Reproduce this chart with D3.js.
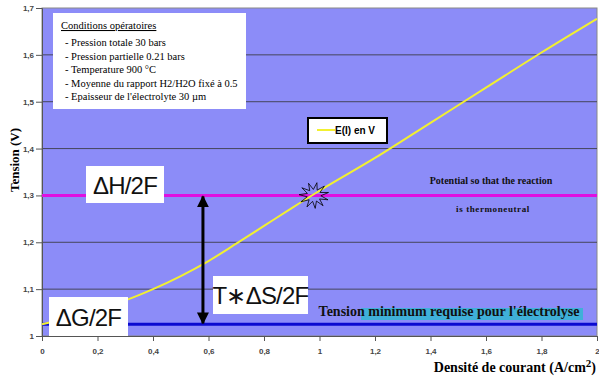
<!DOCTYPE html>
<html>
<head>
<meta charset="utf-8">
<script src="https://cdn.jsdelivr.net/npm/d3@7"></script>
<style>
  body { margin: 0; background: #fff; }
  svg { display: block; }
</style>
</head>
<body>
<div id="chart"></div>
<script>
// data
var density = [0, 0.1, 0.2, 0.3, 0.4, 0.5, 0.6, 0.7, 0.8, 0.9, 1.0, 1.2, 1.4, 1.6, 1.8, 2.0];
var tension = [1.025, 1.04, 1.058, 1.076, 1.10, 1.128, 1.16, 1.197, 1.235, 1.273, 1.31, 1.38, 1.455, 1.53, 1.605, 1.677];
var xTicks = [0, 0.2, 0.4, 0.6, 0.8, 1, 1.2, 1.4, 1.6, 1.8, 2];
var yTicks = [1, 1.1, 1.2, 1.3, 1.4, 1.5, 1.6, 1.7];
var dH = 1.3;      // thermoneutral
var dG = 1.025;    // minimum
var arrowX = 0.58;
var conditions = [
  '- Pression totale 30 bars',
  '- Pression partielle 0.21 bars',
  '- Temperature 900 °C',
  '- Moyenne du rapport H2/H2O fixé à 0.5',
  '- Epaisseur de l\'électrolyte 30 µm'
];

const width = 599;
const height = 377;
var serif = '"Liberation Serif", "Times New Roman", serif';
var sans = '"Liberation Sans", Arial, sans-serif';

var svg = d3.select('#chart').append('svg')
  .attr('width', width)
  .attr('height', height);

var x = d3.scaleLinear().domain([0, 2]).range([42, 597]);
var y = d3.scaleLinear().domain([1, 1.7]).range([336, 8]);

var fmt = function(d) { return String(d).replace('.', ','); };

// plot area
svg.append('rect')
  .attr('x', x(0)).attr('y', y(1.7))
  .attr('width', x(2) - x(0)).attr('height', y(1) - y(1.7))
  .style('fill', '#8c8cf8')
  .style('stroke', '#888')
  .style('stroke-width', 1);

// gridlines
svg.selectAll('.grid').data(yTicks.slice(1, -1)).enter().append('line')
  .attr('class', 'grid')
  .attr('x1', x(0)).attr('x2', x(2))
  .attr('y1', function(d) { return y(d); }).attr('y2', function(d) { return y(d); })
  .style('stroke', '#333').style('stroke-width', 0.8);

// axes
var yAxis = svg.append('g')
  .attr('transform', 'translate(' + x(0) + ',0)')
  .call(d3.axisLeft(y).tickValues(yTicks).tickFormat(fmt).tickSize(6));
var xAxis = svg.append('g')
  .attr('transform', 'translate(0,' + y(1) + ')')
  .call(d3.axisBottom(x).tickValues(xTicks).tickFormat(fmt).tickSize(5));
[yAxis, xAxis].forEach(function(a) {
  a.select('.domain').style('stroke', '#555');
  a.selectAll('.tick line').style('stroke', '#555');
  a.selectAll('.tick text')
    .style('font-family', sans)
    .style('font-size', '8px')
    .style('font-weight', 'bold')
    .style('fill', '#444');
});
xAxis.selectAll('.tick text').attr('dy', '1.3em');
yAxis.selectAll('.tick text').attr('x', -8);

// reference lines
svg.append('line')
  .attr('x1', x(0)).attr('x2', x(2))
  .attr('y1', y(dH)).attr('y2', y(dH))
  .style('stroke', '#e010e0').style('stroke-width', 3);
svg.append('line')
  .attr('x1', x(0)).attr('x2', x(2))
  .attr('y1', y(dG)).attr('y2', y(dG))
  .style('stroke', '#0a0ad0').style('stroke-width', 3);

// curve
var line = d3.line()
  .x(function(d, i) { return x(density[i]); })
  .y(function(d) { return y(d); })
  .curve(d3.curveMonotoneX);
svg.append('path')
  .datum(tension)
  .attr('d', line)
  .style('fill', 'none')
  .style('stroke', '#f2f030')
  .style('stroke-width', 2);

// star burst at intersection
var cx = x(0.98), cy = y(dH);
var pts = [];
for (var i = 0; i < 22; i++) {
  var r = (i % 2 === 0) ? 13 : 6;
  var a = i * Math.PI / 11 - Math.PI / 2 + 0.2;
  pts.push([cx + r * Math.cos(a) * 1.15, cy + r * Math.sin(a)]);
}
svg.append('polygon')
  .attr('points', pts.map(function(p) { return p.join(','); }).join(' '))
  .style('fill', 'none')
  .style('stroke', '#000')
  .style('stroke-width', 0.8);

// double arrow
svg.append('defs').append('marker')
  .attr('id', 'head')
  .attr('viewBox', '0 0 10 10')
  .attr('refX', 9).attr('refY', 5)
  .attr('markerWidth', 4).attr('markerHeight', 4.5)
  .attr('orient', 'auto-start-reverse')
  .append('path').attr('d', 'M0,0 L10,5 L0,10 z').style('fill', '#000');
svg.append('line')
  .attr('x1', x(arrowX)).attr('x2', x(arrowX))
  .attr('y1', y(dH) + 1).attr('y2', y(dG) - 1)
  .attr('marker-start', 'url(#head)')
  .attr('marker-end', 'url(#head)')
  .style('stroke', '#000').style('stroke-width', 3);

// big labels in white boxes
function bigLabel(label, bx, by, bw, bh) {
  svg.append('rect')
    .attr('x', bx).attr('y', by).attr('width', bw).attr('height', bh)
    .style('fill', '#fff');
  svg.append('text')
    .attr('x', bx + bw / 2).attr('y', by + bh / 2 + 9)
    .style('font-family', sans)
    .style('font-size', '24px')
    .style('letter-spacing', '-0.8px')
    .style('text-anchor', 'middle')
    .style('fill', '#111')
    .text(label);
}
bigLabel('ΔH/2F', 86, 166, 78, 37);
bigLabel('ΔG/2F', 49, 297, 79, 39);
bigLabel('T∗ΔS/2F', 213, 276, 95, 38);

// conditions box
svg.append('rect')
  .attr('x', 53).attr('y', 13).attr('width', 193).attr('height', 96)
  .style('fill', '#fff');
svg.append('text')
  .attr('x', 61).attr('y', 29)
  .style('font-family', serif)
  .style('font-size', '10.5px')
  .style('text-decoration', 'underline')
  .text('Conditions opératoires');
svg.selectAll('.cond').data(conditions).enter().append('text')
  .attr('class', 'cond')
  .attr('x', 65)
  .attr('y', function(d, i) { return 46 + i * 13.5; })
  .style('font-family', serif)
  .style('font-size', '10.5px')
  .text(function(d) { return d; });

// legend
svg.append('rect')
  .attr('x', 308).attr('y', 118).attr('width', 79).attr('height', 25)
  .style('fill', '#fff')
  .style('stroke', '#000').style('stroke-width', 2);
svg.append('line')
  .attr('x1', 317).attr('x2', 335).attr('y1', 130).attr('y2', 130)
  .style('stroke', '#f2f030').style('stroke-width', 2);
svg.append('text')
  .attr('x', 335).attr('y', 134)
  .style('font-family', sans).style('font-size', '10px').style('font-weight', 'bold')
  .text('E(I) en V');

// notes
svg.append('text')
  .attr('x', 491).attr('y', 184)
  .style('font-family', serif).style('font-size', '10px').style('font-weight', 'bold')
  .style('text-anchor', 'middle').style('fill', '#111')
  .text('Potential so that the reaction');
svg.append('text')
  .attr('x', 493).attr('y', 212)
  .style('font-family', serif).style('font-size', '9px').style('font-weight', 'bold')
  .style('text-anchor', 'middle').style('fill', '#111').style('letter-spacing', '0.6px')
  .text('is thermoneutral');

svg.append('rect')
  .attr('x', 361).attr('y', 308).attr('width', 222).attr('height', 12)
  .style('fill', '#3fb0d8');
svg.append('text')
  .attr('x', 449).attr('y', 316)
  .style('font-family', serif).style('font-size', '14px').style('font-weight', 'bold')
  .style('text-anchor', 'middle').style('fill', '#111')
  .text('Tension minimum requise pour l\'électrolyse');

// axis titles
svg.append('text')
  .attr('transform', 'translate(19,160) rotate(-90)')
  .style('font-family', serif).style('font-size', '13px').style('font-weight', 'bold')
  .style('text-anchor', 'middle')
  .text('Tension (V)');
var xt = svg.append('text')
  .attr('x', 596).attr('y', 372)
  .style('font-family', serif).style('font-size', '14px').style('font-weight', 'bold')
  .style('text-anchor', 'end');
xt.append('tspan').text('Densité de courant (A/cm');
xt.append('tspan').attr('dy', -5).style('font-size', '11px').text('2');
xt.append('tspan').attr('dy', 5).text(')');
</script>
</body>
</html>
